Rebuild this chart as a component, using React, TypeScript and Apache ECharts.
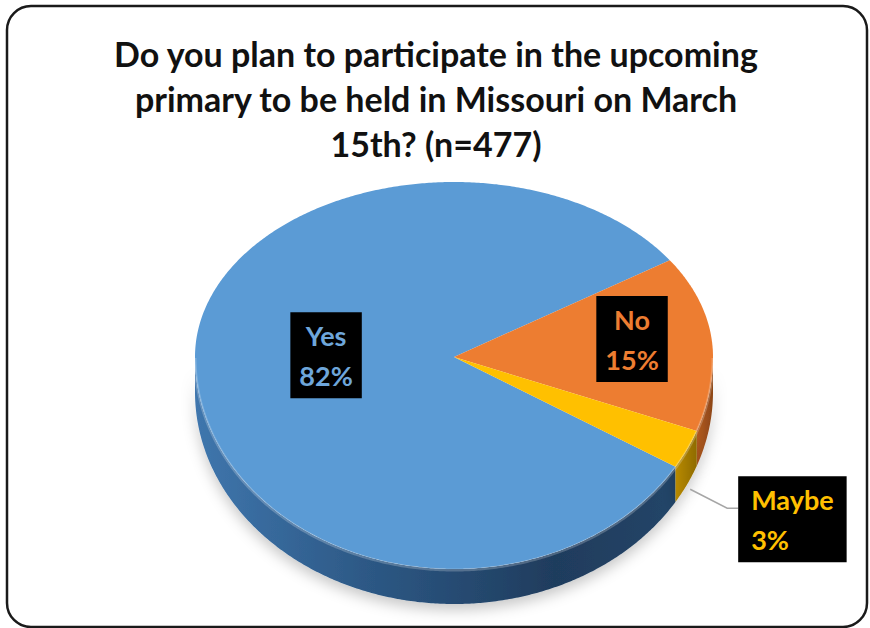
import React, { useEffect, useRef } from "react";
import * as echarts from "echarts";

// ---- data ----
const titleLines = [
  "Do you plan to participate in the upcoming",
  "primary to be held in Missouri on March",
  "15th? (n=477)",
];
const categories = ["Yes", "No", "Maybe"];
const values = [82, 15, 3];
const percentLabels = ["82%", "15%", "3%"];

// ---- styles ----
const topColors = ["#5b9bd5", "#ed7d31", "#ffc000"];
const textColors = ["#6ea6da", "#ed7d31", "#ffc000"];
const sideStops = [
  [
    [0, "#3f76ad"],
    [0.35, "#2d5986"],
    [0.75, "#1f3c5d"],
    [1, "#244568"],
  ],
  [
    [0, "#b45b20"],
    [1, "#8c4618"],
  ],
  [
    [0, "#b88a00"],
    [1, "#8f6b00"],
  ],
];

const CX = 454;
const CY = 357;
const RX = 259;
const RY_UP = 175;
const RY_DOWN = 212;
const DEPTH = 35;
const START_DEG = 31.2; // clockwise from 3 o'clock

const total = values.reduce((a, b) => a + b, 0);
const START = (START_DEG * Math.PI) / 180;

function sliceAngles(i: number): [number, number] {
  let a = START;
  for (let j = 0; j < i; j++) a += (values[j] / total) * Math.PI * 2;
  return [a, a + (values[i] / total) * Math.PI * 2];
}

function pt(t: number, dy = 0): number[] {
  const s = Math.sin(t);
  const ry = s > 0 ? RY_DOWN : RY_UP;
  return [CX + RX * Math.cos(t), CY + ry * s + dy];
}

function arcPts(a0: number, a1: number, dy = 0): number[][] {
  const n = Math.max(2, Math.ceil(Math.abs(a1 - a0) / (Math.PI / 360)));
  const out: number[][] = [];
  for (let k = 0; k <= n; k++) out.push(pt(a0 + ((a1 - a0) * k) / n, dy));
  return out;
}

function frontRanges(a0: number, a1: number): [number, number][] {
  const res: [number, number][] = [];
  for (const off of [0, Math.PI * 2, -Math.PI * 2]) {
    const lo = Math.max(a0, off);
    const hi = Math.min(a1, off + Math.PI);
    if (hi > lo) res.push([lo, hi]);
  }
  return res;
}

// label placement (layout only)
const labelRadial = [0.494, 0.692, 0];

export default function App() {
  const ref = useRef<HTMLDivElement>(null);
  useEffect(() => {
    if (!ref.current) return;
    const chart = echarts.init(ref.current, undefined, { renderer: "svg" });

    const sideSeries = {
      type: "custom",
      coordinateSystem: "none",
      z: 2,
      silent: true,
      data: values,
      renderItem: (params: any) => {
        const i = params.dataIndex;
        const [a0, a1] = sliceAngles(i);
        const children: any[] = [];
        for (const [lo, hi] of frontRanges(a0, a1)) {
          const top = arcPts(lo, hi, 0);
          const bot = arcPts(lo, hi, DEPTH).reverse();
          children.push({
            type: "polygon",
            shape: { points: top.concat(bot) },
            style: {
              fill: new echarts.graphic.LinearGradient(
                0,
                0,
                1,
                0,
                sideStops[i].map((s: any) => ({ offset: s[0], color: s[1] }))
              ),
              shadowBlur: 14,
              shadowColor: "rgba(0,0,0,0.22)",
              shadowOffsetY: 6,
            },
          });
        }
        return { type: "group", children };
      },
    };

    const topSeries = {
      type: "custom",
      coordinateSystem: "none",
      z: 3,
      silent: true,
      data: values,
      renderItem: (params: any) => {
        const i = params.dataIndex;
        const [a0, a1] = sliceAngles(i);
        const pts = [[CX, CY]].concat(arcPts(a0, a1, 0));
        const children: any[] = [
          {
            type: "polygon",
            shape: { points: pts },
            style: { fill: topColors[i] },
          },
        ];
        for (const [lo, hi] of frontRanges(a0, a1)) {
          children.push({
            type: "polyline",
            shape: { points: arcPts(lo, hi, 1) },
            style: { stroke: "rgba(255,255,255,0.22)", lineWidth: 3, fill: "none" },
          });
        }
        return { type: "group", children };
      },
    };

    const labelSeries = {
      type: "custom",
      coordinateSystem: "none",
      z: 5,
      silent: true,
      data: values,
      renderItem: (params: any) => {
        const i = params.dataIndex;
        const [a0, a1] = sliceAngles(i);
        const mid = (a0 + a1) / 2;
        const text = categories[i] + "\n" + percentLabels[i];
        const textStyle = {
          text,
          fill: textColors[i],
          fontSize: 27,
          fontWeight: "bold",
          fontFamily: "Lato",
          lineHeight: 40,
          align: "center",
          verticalAlign: "middle",
          backgroundColor: "#000",
          padding: [3, 9, 3, 9],
        };
        if (labelRadial[i] > 0) {
          const f = labelRadial[i];
          const s = Math.sin(mid);
          const ry = s > 0 ? RY_DOWN : RY_UP;
          const x = CX + RX * f * Math.cos(mid);
          const y = CY + ry * f * s - 4;
          return { type: "text", x, y, style: textStyle };
        }
        const rim = pt(mid, 0);
        const p0 = [rim[0] + 3, rim[1] + DEPTH + 5];
        const p1 = [p0[0] + 37, p0[1] + 19];
        const p2 = [p1[0] + 11, p1[1]];
        return {
          type: "group",
          children: [
            {
              type: "polyline",
              shape: { points: [p0, p1, p2] },
              style: { stroke: "#a6a6a6", lineWidth: 1.5, fill: "none" },
            },
            {
              type: "text",
              x: p2[0],
              y: p2[1] + 11,
              style: { ...textStyle, align: "left", padding: [3, 13, 3, 13] },
            },
          ],
        };
      },
    };

    chart.setOption({
      animation: false,
      backgroundColor: "#ffffff",
      graphic: [
        {
          type: "rect",
          z: -10,
          shape: { x: 7, y: 6, width: 860, height: 621, r: 24 },
          style: { fill: "#fff", stroke: "#1a1a1a", lineWidth: 2.5 },
        },
        ...titleLines.map((line, k) => ({
          type: "text",
          z: 10,
          x: 436,
          y: 53 + k * 45,
          style: {
            text: line,
            fill: "#111",
            fontSize: 34,
            fontWeight: "bold",
            fontFamily: "Lato",
            align: "center",
            verticalAlign: "middle",
          },
        })),
      ],
      series: [sideSeries, topSeries, labelSeries],
    });
    return () => chart.dispose();
  }, []);
  return (
    <div
      ref={ref}
      style={{ position: "fixed", left: 0, top: 0, width: 870, height: 628 }}
    />
  );
}
